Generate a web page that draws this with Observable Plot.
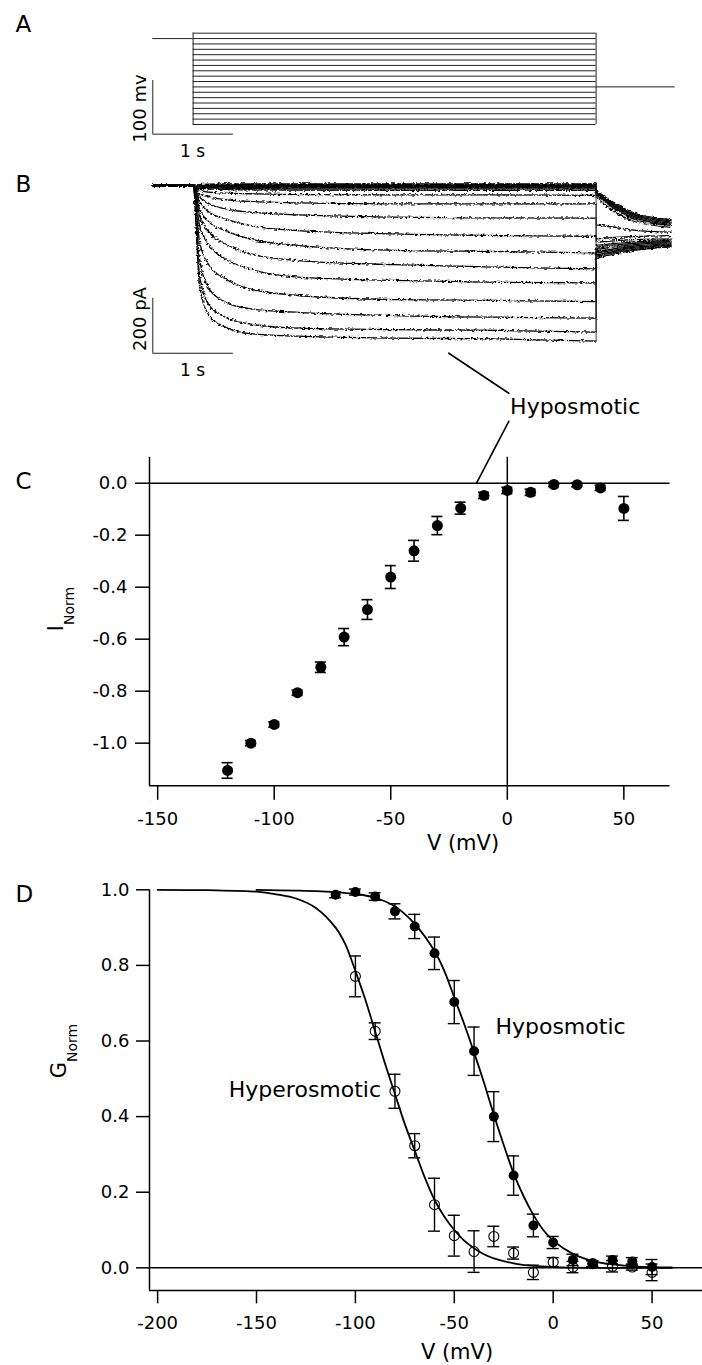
<!DOCTYPE html>
<html>
<head>
<meta charset="utf-8">
<script src="https://cdn.jsdelivr.net/npm/d3@7"></script>
<script src="https://cdn.jsdelivr.net/npm/@observablehq/plot@0.6"></script>
<style>
  body { margin: 0; background: #fff; }
  #fig { position: relative; width: 702px; height: 1365px; background: #fff; overflow: hidden; }
  .panel { position: absolute; left: 0; width: 702px; }
</style>
</head>
<body>
<div id="fig"></div>
<script>
// ---------------- DATA ----------------
// Panel A: voltage protocol (mV, s)
const stepLevels = [-120,-110,-100,-90,-80,-70,-60,-50,-40,-30,-20,-10,0,10,20,30,40,50];
const protocolTimes = [0, 0.5, 5.5, 6.48];   // holding start, step on, step off, tail end
const holdingLevel = 40;
const tailLevel = -50;
const scaleBarA = {t: 0, v: -138, dv: 100, dt: 1};   // 100 mV, 1 s

// Panel B: current traces (pA) per step voltage
const bVoltages = [-120,-110,-100,-90,-80,-70,-60,-50,-40,-30,-20,-10,0,10,20,30,40,50];
const bStepTimes = [0, 0.5, 0.58, 0.7, 0.9, 1.2, 1.8, 3.0, 4.3, 5.5];
const bStep = [
  [0,0,-364,-473,-515,-539,-548,-555,-558,-566],
  [0,0,-327,-436,-479,-503,-519,-524,-527,-533],
  [0,0,-267,-376,-424,-448,-461,-473,-479,-482],
  [0,0,-206,-291,-339,-376,-400,-415,-418,-422],
  [0,0,-145,-218,-267,-303,-333,-345,-352,-354],
  [0,0,-109,-170,-212,-248,-273,-288,-297,-303],
  [0,0,-85,-133,-164,-194,-218,-236,-240,-245],
  [0,0,-61,-97,-121,-145,-164,-176,-182,-185],
  [0,0,-42,-67,-85,-97,-107,-115,-118,-119],
  [0,0,-30,-42,-51,-58,-63,-67,-67,-67],
  [0,0,-18,-24,-28,-30,-33,-34,-34,-36],
  [0,0,-10,-12,-15,-16,-17,-18,-18,-18],
  [0,0,-6,-9,-10,-11,-12,-12,-12,-12],
  [0,0,-4,-6,-7,-7,-8,-8,-8,-8],
  [0,0,-2,-3,-3,-4,-4,-4,-4,-4],
  [0,0,0,0,0,0,0,0,0,0],
  [0,0,2,3,3,3,3,3,3,3],
  [0,0,3,5,6,6,6,6,6,6]
];
const bTailTimes = [5.5, 5.68, 5.97, 6.43];
const bTail = [
  [-264,-252,-236,-223],
  [-258,-247,-232,-221],
  [-252,-242,-228,-218],
  [-246,-237,-225,-216],
  [-240,-232,-220,-212],
  [-233,-225,-215,-208],
  [-224,-218,-210,-204],
  [-218,-212,-205,-200],
  [-206,-202,-197,-194],
  [-194,-190,-186,-182],
  [-143,-150,-162,-170],
  [-42,-85,-130,-152],
  [-34,-75,-122,-145],
  [-30,-70,-117,-142],
  [-27,-66,-112,-137],
  [-24,-62,-108,-133],
  [-21,-58,-104,-128],
  [-18,-55,-100,-124]
];
const scaleBarB = {t: 0, i: -610, di: 200, dt: 1};   // 200 pA, 1 s

// Panel C: normalized I-V (hyposmotic)
const cVoltages = [-120,-110,-100,-90,-80,-70,-60,-50,-40,-30,-20,-10,0,10,20,30,40,50];
const cCurrent  = [-1.105,-1.000,-0.928,-0.806,-0.708,-0.592,-0.486,-0.361,-0.260,-0.163,-0.096,-0.047,-0.028,-0.035,-0.005,-0.006,-0.018,-0.097];
const cError    = [0.030,0.010,0.010,0.010,0.020,0.033,0.038,0.044,0.040,0.035,0.023,0.012,0.012,0.012,0.008,0.008,0.010,0.046];
const cXTicks = [-150,-100,-50,0,50];
const cYTicks = [0,-0.2,-0.4,-0.6,-0.8,-1.0];
const calloutC = [
  {k: "up", v: -25.1, i: 0.50}, {k: "up", v: 0.64, i: 0.346},
  {k: "down", v: 0.64, i: 0.238}, {k: "down", v: -13.2, i: 0.0}
];
const calloutCText = [{v: 1.2, i: 0.294, label: "Hyposmotic"}];

// Panel D: normalized conductance
const hypoV   = [-110,-100,-90,-80,-70,-60,-50,-40,-30,-20,-10,0,10,20,30,40,50];
const hypoG   = [0.987,0.994,0.982,0.943,0.903,0.832,0.703,0.573,0.400,0.244,0.112,0.067,0.021,0.011,0.021,0.017,0.002];
const hypoErr = [0.008,0.008,0.010,0.020,0.032,0.043,0.057,0.064,0.066,0.052,0.030,0.016,0.015,0.008,0.010,0.010,0.020];
const hyperV   = [-100,-90,-80,-70,-60,-50,-40,-30,-20,-10,0,10,20,30,40,50];
const hyperG   = [0.771,0.626,0.467,0.323,0.167,0.085,0.043,0.083,0.039,-0.012,0.015,0.002,0.011,0.004,0.002,-0.012];
const hyperErr = [0.054,0.022,0.045,0.032,0.070,0.054,0.055,0.027,0.016,0.019,0.012,0.015,0.008,0.015,0.008,0.022];
const hyperFitV = [-200,-175,-150,-140,-130,-120,-110,-105,-100,-95,-90,-85,-80,-75,-70,-65,-60,-55,-50,-45,-40,-35,-30,-20,-10,0,20,60];
const hyperFitG = [1.0,0.999,0.995,0.988,0.977,0.952,0.90,0.855,0.785,0.71,0.625,0.54,0.46,0.38,0.31,0.24,0.18,0.135,0.10,0.072,0.052,0.036,0.025,0.012,0.005,0.002,0.0,0.0];
const hypoFitV = [-150,-130,-110,-100,-90,-80,-70,-60,-55,-50,-45,-40,-35,-30,-25,-20,-15,-10,-5,0,10,20,30,40,50,60];
const hypoFitG = [1.0,0.998,0.994,0.989,0.979,0.956,0.91,0.838,0.785,0.715,0.645,0.57,0.49,0.405,0.325,0.25,0.19,0.14,0.10,0.072,0.037,0.018,0.009,0.004,0.002,0.001];
const dXTicks = [-200,-150,-100,-50,0,50];
const dYTicks = [0,0.2,0.4,0.6,0.8,1.0];
const dLabels = [
  {v: -29.2, g: 0.638, label: "Hyposmotic"},
  {v: -164.0, g: 0.470, label: "Hyperosmotic"}
];

// ---------------- LAYOUT ----------------
const W = 702;
const FONT = "DejaVu Sans, sans-serif";
const INK = "#000";
const baseStyle = {background: "transparent", overflow: "visible", fontFamily: FONT, fontSize: "18px", color: INK};
const fig = document.getElementById("fig");

function place(svg, top) {
  const d = document.createElement("div");
  d.className = "panel";
  d.style.top = top + "px";
  d.appendChild(svg);
  fig.appendChild(d);
  return svg;
}
function addText(svg, top, x, y, s, size, anchor = "start", rotate = false) {
  const t = d3.select(svg).append("text")
    .attr("font-family", FONT).attr("font-size", size).attr("fill", INK)
    .attr("text-anchor", anchor).text(s);
  if (rotate) t.attr("transform", `translate(${x},${y - top}) rotate(-90)`);
  else t.attr("x", x).attr("y", y - top);
  return t;
}
function addSubLabel(svg, top, x, y, main, sub) {
  const t = d3.select(svg).append("text")
    .attr("font-family", FONT).attr("fill", INK).attr("text-anchor", "middle")
    .attr("transform", `translate(${x},${y - top}) rotate(-90)`);
  t.append("tspan").attr("font-size", 21).text(main);
  t.append("tspan").attr("font-size", 14).attr("dy", 11).text(sub);
}

// ---------- Panel A ----------
const aTop = 0, aH = 165;
const aPxPerS = 80.6, aX0 = 152.3;
const aPxPerMv = 0.537, aY50 = 32.7;
const aSvg = place(Plot.plot({
  width: W, height: aH, margin: 0,
  style: baseStyle,
  x: {axis: null, domain: [-aX0 / aPxPerS, (W - aX0) / aPxPerS]},
  y: {axis: null, domain: [50 - (aH - aY50) / aPxPerMv, 50 + aY50 / aPxPerMv]},
  marks: [
    Plot.ruleY(stepLevels, {x1: protocolTimes[1], x2: protocolTimes[2], stroke: "#222", strokeWidth: 1}),
    Plot.ruleX([protocolTimes[1], protocolTimes[2]], {y1: d3.min(stepLevels), y2: d3.max(stepLevels), stroke: "#222", strokeWidth: 1}),
    Plot.ruleY([holdingLevel], {x1: protocolTimes[0], x2: protocolTimes[1], stroke: "#222", strokeWidth: 1}),
    Plot.ruleY([tailLevel], {x1: protocolTimes[2], x2: protocolTimes[3], stroke: "#222", strokeWidth: 1}),
    Plot.ruleX([scaleBarA.t], {y1: scaleBarA.v, y2: scaleBarA.v + scaleBarA.dv, stroke: "#222", strokeWidth: 1}),
    Plot.ruleY([scaleBarA.v], {x1: scaleBarA.t, x2: scaleBarA.t + scaleBarA.dt, stroke: "#222", strokeWidth: 1})
  ]
}), aTop);
addText(aSvg, aTop, 15.5, 31.7, "A", 23);
addText(aSvg, aTop, 146, 108.5, "100 mv", 18, "middle", true);
addText(aSvg, aTop, 192.6, 156.7, "1 s", 17, "middle");

// ---------- Panel B ----------
const bTop = 165, bH = 220;
const bPxPerPa = 0.275, bY0 = 185;
const bRows = [], bTails = [], bJumps = [];
bVoltages.forEach((v, k) => {
  bStepTimes.forEach((t, j) => bRows.push({v, t, i: bStep[k][j]}));
  bTailTimes.forEach((t, j) => bTails.push({v, t, i: bTail[k][j]}));
  bJumps.push({v, t: bStepTimes[bStepTimes.length - 1], i1: bStep[k][bStep[k].length - 1], i2: bTail[k][0]});
});
const bSvg = place(Plot.plot({
  width: W, height: bH, margin: 0,
  style: baseStyle,
  x: {axis: null, domain: [-aX0 / aPxPerS, (W - aX0) / aPxPerS]},
  y: {axis: null, domain: [-(bTop + bH - bY0) / bPxPerPa, (bY0 - bTop) / bPxPerPa]},
  marks: [
    Plot.line(bRows, {x: "t", y: "i", z: "v", curve: "monotone-x", stroke: "#000", strokeWidth: 1.3}),
    Plot.line(bTails, {x: "t", y: "i", z: "v", curve: "monotone-x", stroke: "#000", strokeWidth: 1.3}),
    Plot.link(bJumps, {x1: "t", x2: "t", y1: "i1", y2: "i2", stroke: "#111", strokeWidth: 0.8}),
    Plot.ruleX([scaleBarB.t], {y1: scaleBarB.i, y2: scaleBarB.i + scaleBarB.di, stroke: "#222", strokeWidth: 1}),
    Plot.ruleY([scaleBarB.i], {x1: scaleBarB.t, x2: scaleBarB.t + scaleBarB.dt, stroke: "#222", strokeWidth: 1})
  ]
}), bTop);
{
  const defs = d3.select(bSvg).insert("defs", ":first-child");
  const f = defs.append("filter").attr("id", "jitter")
    .attr("x", "-2%").attr("y", "-5%").attr("width", "104%").attr("height", "110%");
  f.append("feTurbulence").attr("type", "fractalNoise").attr("baseFrequency", "0.35 0.6")
    .attr("numOctaves", 2).attr("seed", 7).attr("result", "n");
  f.append("feDisplacementMap").attr("in", "SourceGraphic").attr("in2", "n")
    .attr("scale", 4).attr("xChannelSelector", "R").attr("yChannelSelector", "G");
  d3.select(bSvg).selectAll('g[aria-label="line"]').attr("filter", "url(#jitter)");
}
addText(bSvg, bTop, 15.5, 191.7, "B", 23);
addText(bSvg, bTop, 146, 319, "200 pA", 18, "middle", true);
addText(bSvg, bTop, 192.6, 376, "1 s", 17, "middle");

// ---------- Panel C ----------
const cTop = 340, cH = 520;
const cData = cVoltages.map((v, k) => ({v, i: cCurrent[k], e: cError[k]}));
const cXDomain = [-153.5, 69.8], cYDomain = [-1.164, 0.1];
const cSvg = place(Plot.plot({
  width: W, height: cH,
  marginLeft: 149, marginRight: 32.5, marginTop: 116.7, marginBottom: 74.7,
  style: baseStyle,
  x: {domain: cXDomain},
  y: {domain: cYDomain},
  marks: [
    Plot.ruleX([cXDomain[0]], {strokeWidth: 1.5}),
    Plot.ruleY([cYDomain[0]], {strokeWidth: 1.5}),
    Plot.ruleY([0], {strokeWidth: 1.5}),
    Plot.ruleX([0], {strokeWidth: 1.5}),
    Plot.axisX({ticks: cXTicks, tickSize: 14.5, tickPadding: 12, tickFormat: d => d.toFixed(0), label: null, fontSize: 18, strokeWidth: 1.5}),
    Plot.axisY({ticks: cYTicks, tickSize: 14, tickPadding: 8, tickFormat: d => d.toFixed(1), label: null, fontSize: 18, strokeWidth: 1.5}),
    Plot.line(calloutC, {x: "v", y: "i", z: "k", strokeWidth: 1.6}),
    Plot.text(calloutCText, {x: "v", y: "i", text: "label", textAnchor: "start", lineAnchor: "middle", fontSize: 22}),
    Plot.ruleX(cData, {x: "v", y1: d => d.i - d.e, y2: d => d.i + d.e, strokeWidth: 1.6}),
    Plot.ruleY(cData, {x1: "v", x2: "v", y: d => d.i - d.e, insetLeft: -5.5, insetRight: -5.5, strokeWidth: 1.6}),
    Plot.ruleY(cData, {x1: "v", x2: "v", y: d => d.i + d.e, insetLeft: -5.5, insetRight: -5.5, strokeWidth: 1.6}),
    Plot.dot(cData, {x: "v", y: "i", r: 5.5, fill: INK})
  ]
}), cTop);
addText(cSvg, cTop, 15.5, 489, "C", 23);
addText(cSvg, cTop, 463, 850, "V (mV)", 21, "middle");
addSubLabel(cSvg, cTop, 63, 609, "I", "Norm");

// ---------- Panel D ----------
const dTop = 860, dH = 505;
const hypo = hypoV.map((v, k) => ({v, g: hypoG[k], e: hypoErr[k]}));
const hyper = hyperV.map((v, k) => ({v, g: hyperG[k], e: hyperErr[k]}));
const hypoFit = hypoFitV.map((v, k) => ({v, g: hypoFitG[k]}));
const hyperFit = hyperFitV.map((v, k) => ({v, g: hyperFitG[k]}));
const dXDomain = [-204.1, 75.5], dYDomain = [-0.06, 1.0];
const errMarks = (data, w) => [
  Plot.ruleX(data, {x: "v", y1: d => d.g - d.e, y2: d => d.g + d.e, strokeWidth: w}),
  Plot.ruleY(data, {x1: "v", x2: "v", y: d => d.g - d.e, insetLeft: -6, insetRight: -6, strokeWidth: w}),
  Plot.ruleY(data, {x1: "v", x2: "v", y: d => d.g + d.e, insetLeft: -6, insetRight: -6, strokeWidth: w})
];
const dSvg = place(Plot.plot({
  width: W, height: dH,
  marginLeft: 149, marginRight: 0, marginTop: 29.3, marginBottom: 75,
  style: baseStyle,
  x: {domain: dXDomain},
  y: {domain: dYDomain},
  marks: [
    Plot.ruleX([dXDomain[0]], {strokeWidth: 1.5}),
    Plot.ruleY([dYDomain[0]], {strokeWidth: 1.5}),
    Plot.ruleY([0], {strokeWidth: 1.5}),
    Plot.axisX({ticks: dXTicks, tickSize: 13.3, tickPadding: 12, tickFormat: d => d.toFixed(0), label: null, fontSize: 18, strokeWidth: 1.5}),
    Plot.axisY({ticks: dYTicks, tickSize: 13, tickPadding: 7, tickFormat: d => d.toFixed(1), label: null, fontSize: 18, strokeWidth: 1.5}),
    Plot.line(hyperFit, {x: "v", y: "g", curve: "catmull-rom", strokeWidth: 1.8}),
    Plot.line(hypoFit, {x: "v", y: "g", curve: "catmull-rom", strokeWidth: 1.8}),
    ...errMarks(hyper, 1.4),
    Plot.dot(hyper, {x: "v", y: "g", r: 5, fill: "none", stroke: INK, strokeWidth: 1.1}),
    ...errMarks(hypo, 1.4),
    Plot.dot(hypo, {x: "v", y: "g", r: 5, fill: INK}),
    Plot.text(dLabels, {x: "v", y: "g", text: "label", textAnchor: "start", lineAnchor: "middle", fontSize: 22})
  ]
}), dTop);
addText(dSvg, dTop, 15.5, 901.7, "D", 23);
addText(dSvg, dTop, 457, 1358.6, "V (mV)", 21, "middle");
addSubLabel(dSvg, dTop, 66, 1051, "G", "Norm");
</script>
</body>
</html>
